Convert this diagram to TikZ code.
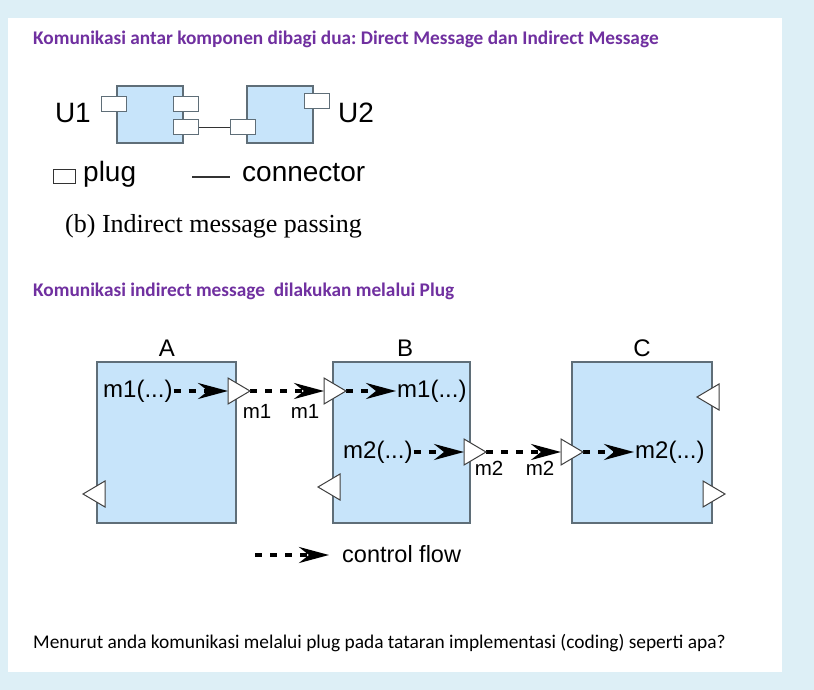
\documentclass[tikz,border=0pt]{standalone}
\usepackage{fontspec}
\setmainfont{Liberation Sans}
\newfontfamily\calib{Carlito}
\newfontfamily\timesf{Liberation Serif}
\usetikzlibrary{arrows.meta}
\frenchspacing
\definecolor{bgblue}{RGB}{221,239,246}
\definecolor{boxblue}{RGB}{199,228,250}
\definecolor{boxline}{RGB}{95,110,120}
\definecolor{ttlpurple}{RGB}{112,48,160}
\newcommand\trRight[3]{% base x, y, name: triangle pointing right
  \draw[tri] (#1,#2-13) -- (#1+22,#2) -- (#1,#2+13) -- cycle;
  \coordinate (#3-b) at (#1,#2); \coordinate (#3-t) at (#1+22,#2);}
\newcommand\trLeft[3]{% tip x, y, name: triangle pointing left
  \draw[tri] (#1,#2) -- (#1+22,#2-13) -- (#1+22,#2+13) -- cycle;
  \coordinate (#3-t) at (#1,#2); \coordinate (#3-b) at (#1+22,#2);}
\begin{document}
\begin{tikzpicture}[x=1pt,y=-1pt,
  ttl/.style={font=\calib\bfseries\fontsize{19.3}{23}\selectfont, text=ttlpurple, anchor=base west, inner sep=0pt},
  body/.style={font=\calib\fontsize{19.4}{23}\selectfont, anchor=base west, inner sep=0pt},
  comp/.style={draw=boxline, fill=boxblue, line width=1.2pt, inner sep=0pt},
  plugbox/.style={draw=boxline, fill=white, line width=1pt, inner sep=0pt, minimum width=25pt, minimum height=15pt},
  tri/.style={draw=black!75, fill=white, line width=1pt, line join=miter},
  big/.style={font=\fontsize{28}{32}\selectfont, inner sep=0pt},
  mid/.style={font=\fontsize{24}{28}\selectfont, inner sep=1pt},
  small/.style={font=\fontsize{20.5}{24}\selectfont, inner sep=0pt},
  flow/.style={line width=3.5pt, dash pattern=on 7pt off 8pt, -{Stealth[length=30pt,width=16pt,inset=10pt]}},
  conn/.style={draw=black!80, line width=1.3pt}
]
\fill[bgblue] (0,0) rectangle (814,690);
\fill[white] (8,18) rectangle (782,672);
\useasboundingbox (0,0) rectangle (814,690);

% titles and text
\node[ttl] (t1) at (33,45) {Komunikasi antar komponen dibagi dua: Direct Message dan Indirect Message};
\node[ttl] (t2) at (33,296) {Komunikasi indirect message\ \ dilakukan melalui Plug};
\node[body] (q) at (33,648) {Menurut anda komunikasi melalui plug pada tataran implementasi (coding) seperti apa?};

% top diagram
\node[comp, minimum width=66pt, minimum height=57pt] (u1) at (150,114.5) {};
\node[comp, minimum width=66pt, minimum height=57pt] (u2) at (280,114.5) {};
\node[plugbox] (u1p1) at (113.5,104) {};
\node[plugbox] (u1p2) at (185.5,104) {};
\node[plugbox] (u1p3) at (185.5,127.5) {};
\node[plugbox] (u2p1) at (243,127.5) {};
\node[plugbox] (u2p2) at (316.5,101.5) {};
\draw[conn] (u1p3.east) -- (u2p1.west);
\node[big, anchor=base east] (u1l) at (91,123) {U1};
\node[big, anchor=base west] (u2l) at (338,123) {U2};
\node[draw=black!80, line width=1pt, minimum width=22pt, minimum height=13pt, inner sep=0pt] (lgp) at (64,176.5) {};
\node[big, anchor=base west] (lgpt) at (83,182) {plug};
\coordinate (lgc1) at (192,177);
\coordinate (lgc2) at (230,177);
\draw[conn] (lgc1) -- (lgc2);
\node[big, anchor=base west] (lgct) at (242,182) {connector};
\node[font=\timesf\fontsize{26}{30}\selectfont, anchor=base west, inner sep=0pt] (cap) at (65,232) {(b) Indirect message passing};

% middle diagram
\node[comp, minimum width=139pt, minimum height=161pt] (A) at (166.5,442.5) {};
\node[comp, minimum width=137pt, minimum height=161pt] (B) at (401.5,442.5) {};
\node[comp, minimum width=140pt, minimum height=161pt] (C) at (642,442.5) {};
\node[mid, anchor=base] (Al) at (167,356) {A};
\node[mid, anchor=base] (Bl) at (405,356) {B};
\node[mid, anchor=base] (Cl) at (642,356) {C};

\node[mid, anchor=west] (Am1) at (102,391) {m1(...)};
\node[mid, anchor=west] (Bm1) at (396,391) {m1(...)};
\node[mid, anchor=west] (Bm2) at (342,452) {m2(...)};
\node[mid, anchor=west] (Cm2) at (634,452) {m2(...)};

\draw[flow] (Am1.east) -- (228,391) coordinate (Aout-b);
\draw[flow] (250,391) coordinate (Aout-t) -- (324,391) coordinate (Bin-b);
\draw[flow] (346,391) coordinate (Bin-t) -- (Bm1.west);
\draw[flow] (Bm2.east) -- (464,452) coordinate (Bout-b);
\draw[flow] (486,452) coordinate (Bout-t) -- (561,452) coordinate (Cin-b);
\draw[flow] (583,452) coordinate (Cin-t) -- (Cm2.west);

\trRight{228}{391}{Aout}
\trRight{324}{391}{Bin}
\trRight{464}{452}{Bout}
\trRight{561}{452}{Cin}
\trLeft{83}{494}{Ain}
\trLeft{318}{487}{Bin2}
\trLeft{697}{397}{Cin2}
\trRight{703}{494}{Cout}

\node[small] (m1a) at (257,411) {m1};
\node[small] (m1b) at (305,411) {m1};
\node[small] (m2a) at (489,468) {m2};
\node[small] (m2b) at (540,468) {m2};

% legend control flow
\coordinate (cf1) at (255,555);
\coordinate (cf2) at (329,555);
\draw[flow] (cf1) -- (cf2);
\node[font=\fontsize{23.5}{28}\selectfont, anchor=west, inner sep=0pt] (cft) at (342,554) {control flow};
\end{tikzpicture}
\end{document}
